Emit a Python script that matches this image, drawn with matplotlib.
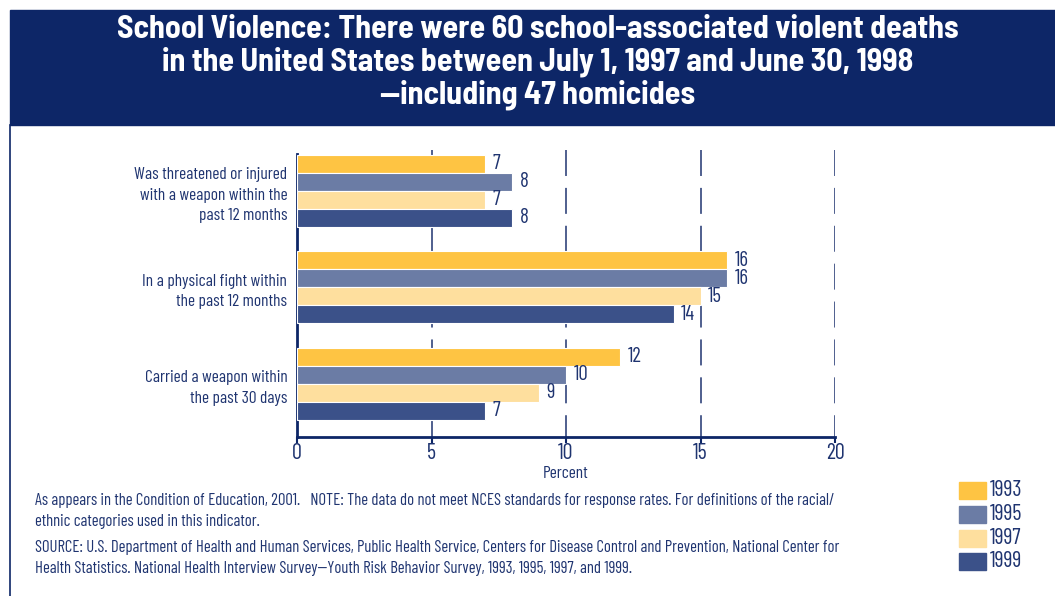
import numpy as np
import matplotlib
matplotlib.use("Agg")
import matplotlib.pyplot as plt
from matplotlib.patches import Rectangle

# data
categories = ["Was threatened or injured\nwith a weapon within the\npast 12 months",
              "In a physical fight within\nthe past 12 months",
              "Carried a weapon within\nthe past 30 days"]
years = ["1993", "1995", "1997", "1999"]
values = {
    "1993": [7, 16, 12],
    "1995": [8, 16, 10],
    "1997": [7, 15, 9],
    "1999": [8, 14, 7],
}
xticks = [0, 5, 10, 15, 20]
colors = {"1993": "#FEC443", "1995": "#6B7CA5", "1997": "#FEDF9E", "1999": "#3B5189"}

title = ("School Violence: There were 60 school-associated violent deaths\n"
         "in the United States between July 1, 1997 and June 30, 1998\n"
         "\u2014including 47 homicides")
note = ("As appears in the Condition of Education, 2001.   NOTE: The data do not meet NCES standards for response rates. For definitions of the racial/\n"
        "ethnic categories used in this indicator.")
source = ("SOURCE: U.S. Department of Health and Human Services, Public Health Service, Centers for Disease Control and Prevention, National Center for\n"
          "Health Statistics. National Health Interview Survey\u2014Youth Risk Behavior Survey, 1993, 1995, 1997, and 1999.")

navy = "#0D2667"
txt = "#1F3470"
plt.rcParams['font.family'] = ['Barlow Condensed', 'Roboto Condensed', 'DejaVu Sans']
title_fonts = ['Barlow Semi Condensed', 'Roboto Condensed', 'DejaVu Sans']

fig = plt.figure(figsize=(10.55, 5.96), dpi=100)
W, H = 1055, 596

# title band + left border
fig.patches.append(Rectangle((10 / W, 1 - 125 / H), 1 - 10 / W, 115 / H,
                             transform=fig.transFigure, color=navy, zorder=0))
fig.lines.append(plt.Line2D([10 / W, 10 / W], [0, 1 - 125 / H], transform=fig.transFigure,
                            color=navy, lw=1.2))
fig.text(538 / W, 1 - 62.5 / H, title, ha="center", va="center", color="white",
         fontsize=23, fontweight="bold", linespacing=1.12, family=title_fonts)

ax = fig.add_axes([297 / W, 1 - 437 / H, 538 / W, 289 / H])
h = 18 / 96.5
y = np.arange(len(categories))
for i, yr in enumerate(years):
    pos = y - 1.5 * h + i * h
    ax.barh(pos, values[yr], height=h, color=colors[yr], edgecolor="white",
            linewidth=0.8, zorder=3)
    for p, v in zip(pos, values[yr]):
        ax.text(v + 0.28, p, str(v), va="center", ha="left", color=txt, fontsize=15, zorder=4)

ax.set_xlim(0, 20)
ymin, ymax = 2 + 53 / 96.5, -43 / 96.5
ax.set_ylim(ymin, ymax)
top = ymax + 2 / 96.5
for x in xticks[1:]:
    ax.plot([x, x], [top, ymin], color=txt, lw=1.1, dashes=(17, 7.8), zorder=1,
            solid_capstyle="butt", dash_capstyle="butt")
for s in ["top", "right"]:
    ax.spines[s].set_visible(False)
ax.spines["left"].set_color(navy)
ax.spines["bottom"].set_color(navy)
ax.spines["left"].set_linewidth(2)
ax.spines["bottom"].set_linewidth(2)
ax.spines["left"].set_bounds(ymin, -0.38)
ax.set_xticks(xticks)
ax.set_xticklabels([str(t) for t in xticks], fontsize=16, color=txt)
ax.tick_params(axis="x", length=4, width=1.5, color=navy, pad=0)
ax.set_yticks(y)
ax.set_yticklabels(categories, fontsize=12.5, color=txt, linespacing=1.45)
ax.tick_params(axis="y", length=0, pad=7)
ax.set_xlabel("Percent", fontsize=12.5, color=txt, labelpad=2)

fig.text(35 / W, 1 - 511 / H, note, ha="left", va="center", color=txt, fontsize=12,
         linespacing=1.45)
fig.text(35 / W, 1 - 558 / H, source, ha="left", va="center", color=txt, fontsize=12,
         linespacing=1.45)

# legend drawn by hand
for i, yr in enumerate(years):
    yy = 1 - (490.5 + i * 23.8) / H
    fig.patches.append(Rectangle((959 / W, yy - 8.5 / H), 27 / W, 17 / H,
                                 transform=fig.transFigure, color=colors[yr]))
    fig.text(990 / W, yy, yr, ha="left", va="center", color=txt, fontsize=16)

fig.savefig("out.png", dpi=100, facecolor="white")
